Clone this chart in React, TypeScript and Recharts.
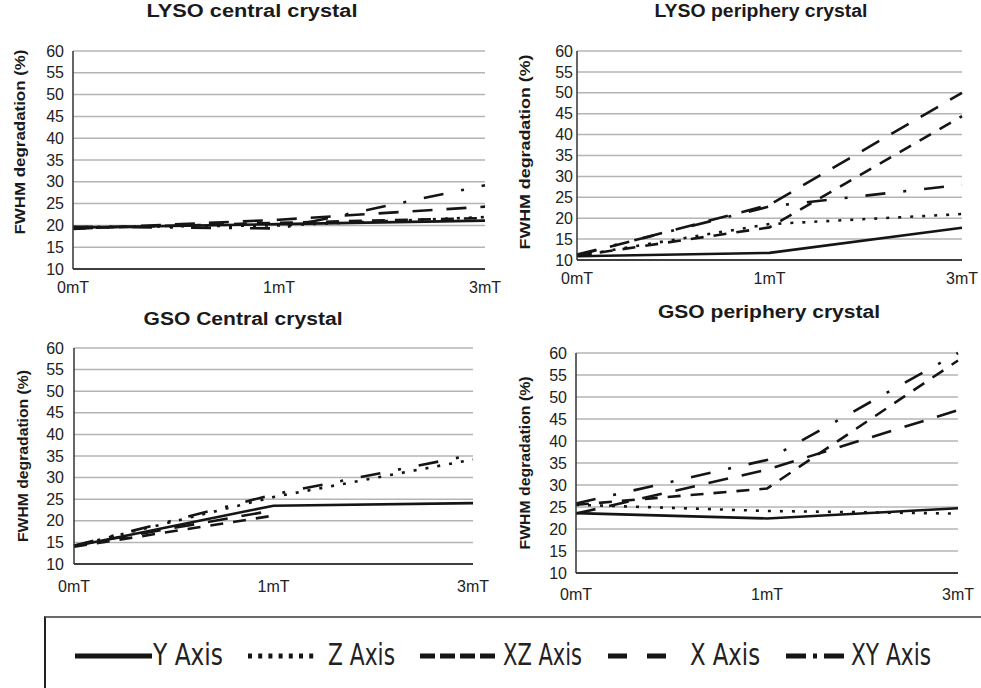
import React from "react";
import { CartesianGrid, Line, LineChart, XAxis, YAxis } from "recharts";

const FIELDS = ["0mT", "1mT", "3mT"];
const Y_TICKS = [10, 15, 20, 25, 30, 35, 40, 45, 50, 55, 60];

// values (FWHM degradation, %)
const LYSO_CENTRAL_Y = [19.5, 20.3, 21.1];
const LYSO_CENTRAL_Z = [19.6, 20.0, 21.9];
const LYSO_CENTRAL_XZ = [19.3, 20.6, 21.7];
const LYSO_CENTRAL_X = [19.2, 21.3, 24.3];
const LYSO_CENTRAL_XY = [19.7, 19.3, 29.2];

const LYSO_PERIPHERY_Y = [10.9, 11.7, 17.7];
const LYSO_PERIPHERY_Z = [11.0, 18.6, 21.0];
const LYSO_PERIPHERY_XZ = [11.0, 17.8, 44.4];
const LYSO_PERIPHERY_X = [11.1, 23.2, 50.0];
const LYSO_PERIPHERY_XY = [11.3, 22.8, 28.0];

const GSO_CENTRAL_Y = [14.1, 23.5, 24.1];
const GSO_CENTRAL_Z = [14.2, 25.5, 34.2];
const GSO_CENTRAL_XZ = [14.0, 21.2, null];
const GSO_CENTRAL_X = [14.3, 22.4, null];
const GSO_CENTRAL_XY = [14.2, 26.1, 35.3];

const GSO_PERIPHERY_Y = [23.6, 22.4, 24.7];
const GSO_PERIPHERY_Z = [25.5, 24.1, 23.5];
const GSO_PERIPHERY_XZ = [25.5, 29.2, 58.3];
const GSO_PERIPHERY_X = [23.5, 33.5, 47.0];
const GSO_PERIPHERY_XY = [25.8, 35.7, 60.0];

const SERIES = [
  { key: "Y", name: "Y Axis", dash: undefined as string | undefined },
  { key: "Z", name: "Z Axis", dash: "3 9" },
  { key: "XZ", name: "XZ Axis", dash: "13 10" },
  { key: "X", name: "X Axis", dash: "20 14" },
  { key: "XY", name: "XY Axis", dash: "20 18 3 18" },
];

const LINE_COLOR = "#151515";
const FONT = "'Liberation Sans', Arial, sans-serif";
const NARROW = "'DejaVu Sans Condensed', 'Liberation Sans', sans-serif";

type Val = number | null;

function makeRows(y: Val[], z: Val[], xz: Val[], x: Val[], xy: Val[]) {
  return FIELDS.map((f, i) => ({ field: f, Y: y[i], Z: z[i], XZ: xz[i], X: x[i], XY: xy[i] }));
}

const PANELS = [
  {
    title: "LYSO central crystal",
    rows: makeRows(LYSO_CENTRAL_Y, LYSO_CENTRAL_Z, LYSO_CENTRAL_XZ, LYSO_CENTRAL_X, LYSO_CENTRAL_XY),
    x0: 73, x1: 485, y0: 51, y1: 269, xGap: 13, yGap: 9,
    tx: 252, ty: 17, tw: 211, lx: 20, ly: 142, ll: 185,
  },
  {
    title: "LYSO periphery crystal",
    rows: makeRows(LYSO_PERIPHERY_Y, LYSO_PERIPHERY_Z, LYSO_PERIPHERY_XZ, LYSO_PERIPHERY_X, LYSO_PERIPHERY_XY),
    x0: 577, x1: 962, y0: 51, y1: 260, xGap: 13, yGap: 4,
    tx: 761, ty: 17, tw: 213, lx: 525, ly: 152, ll: 195,
  },
  {
    title: "GSO Central crystal",
    rows: makeRows(GSO_CENTRAL_Y, GSO_CENTRAL_Z, GSO_CENTRAL_XZ, GSO_CENTRAL_X, GSO_CENTRAL_XY),
    x0: 74, x1: 473, y0: 348, y1: 564, xGap: 17, yGap: 10,
    tx: 243, ty: 325, tw: 199, lx: 23, ly: 456, ll: 172,
  },
  {
    title: "GSO periphery crystal",
    rows: makeRows(GSO_PERIPHERY_Y, GSO_PERIPHERY_Z, GSO_PERIPHERY_XZ, GSO_PERIPHERY_X, GSO_PERIPHERY_XY),
    x0: 576, x1: 958, y0: 353, y1: 573, xGap: 16, yGap: 9,
    tx: 769, ty: 318, tw: 222, lx: 525, ly: 463, ll: 173,
  },
];

function Panel({ p }: { p: (typeof PANELS)[number] }) {
  const width = p.x1 - p.x0 + 85;
  const height = p.y1 - p.y0 + 45;
  return (
    <div style={{ position: "absolute", left: p.x0 - 60, top: p.y0 - 10 }}>
      <LineChart width={width} height={height} data={p.rows} margin={{ top: 10, right: 25, bottom: 5, left: 10 }}>
        <CartesianGrid vertical={false} stroke="#b4b4b4" strokeWidth={1.5} />
        <XAxis
          dataKey="field"
          height={30}
          interval={0}
          tickLine={false}
          tickSize={0}
          tickMargin={p.xGap}
          axisLine={{ stroke: "#111", strokeWidth: 1.5 }}
          tick={{ fontSize: 16, fill: "#222", fontFamily: FONT }}
        />
        <YAxis
          width={50}
          domain={[10, 60]}
          ticks={Y_TICKS}
          interval={0}
          tickLine={false}
          tickSize={0}
          tickMargin={p.yGap}
          axisLine={{ stroke: "#333", strokeWidth: 1.5 }}
          tick={{ fontSize: 16, fill: "#222", fontFamily: FONT }}
        />
        {SERIES.map((s) => (
          <Line
            key={s.key}
            dataKey={s.key}
            name={s.name}
            type="linear"
            stroke={LINE_COLOR}
            strokeWidth={2.6}
            strokeDasharray={s.dash}
            dot={false}
            activeDot={false}
            isAnimationActive={false}
          />
        ))}
      </LineChart>
    </div>
  );
}

// legend sample spans and label positions
const LEGEND_ITEMS = [
  { key: "Y", x: 75, w: 77, tx: 153, tl: 70, dash: undefined as string | undefined },
  { key: "Z", x: 248, w: 70, tx: 328, tl: 67, dash: "4 6.2" },
  { key: "XZ", x: 420, w: 78, tx: 503, tl: 79, dash: "15 5" },
  { key: "X", x: 608, w: 58, tx: 690, tl: 70, dash: "19 20" },
  { key: "XY", x: 786, w: 62, tx: 851, tl: 80, dash: "20 7 4 7" },
];

export default function App() {
  return (
    <div style={{ position: "absolute", left: 0, top: 0, width: 981, height: 688, overflow: "hidden", background: "#fff" }}>
      {PANELS.map((p) => (
        <Panel key={p.title} p={p} />
      ))}
      <div
        style={{
          position: "absolute",
          left: 44,
          top: 616,
          width: 1000,
          height: 120,
          borderTop: "2px solid #6a6a6a",
          borderLeft: "2px solid #222",
        }}
      />
      <svg width={981} height={688} style={{ position: "absolute", left: 0, top: 0, pointerEvents: "none" }}>
        {PANELS.map((p) => (
          <g key={p.title}>
            <text
              x={p.tx}
              y={p.ty}
              textAnchor="middle"
              fontFamily={FONT}
              fontWeight="bold"
              fontSize={18}
              fill="#1a1a1a"
              textLength={p.tw}
              lengthAdjust="spacingAndGlyphs"
            >
              {p.title}
            </text>
            <text
              transform={`translate(${p.lx + 5},${p.ly}) rotate(-90)`}
              textAnchor="middle"
              fontFamily={FONT}
              fontWeight="bold"
              fontSize={15}
              fill="#1a1a1a"
              textLength={p.ll}
              lengthAdjust="spacingAndGlyphs"
            >
              FWHM degradation (%)
            </text>
          </g>
        ))}
        {LEGEND_ITEMS.map((it, i) => (
          <g key={it.key}>
            <line
              x1={it.x}
              x2={it.x + it.w}
              y1={656}
              y2={656}
              stroke={LINE_COLOR}
              strokeWidth={5}
              strokeDasharray={it.dash}
            />
            <text
              x={it.tx}
              y={665}
              fontFamily={NARROW}
              fontSize={30}
              fill="#222"
              textLength={it.tl}
              lengthAdjust="spacingAndGlyphs"
            >
              {SERIES[i].name}
            </text>
          </g>
        ))}
      </svg>
    </div>
  );
}
